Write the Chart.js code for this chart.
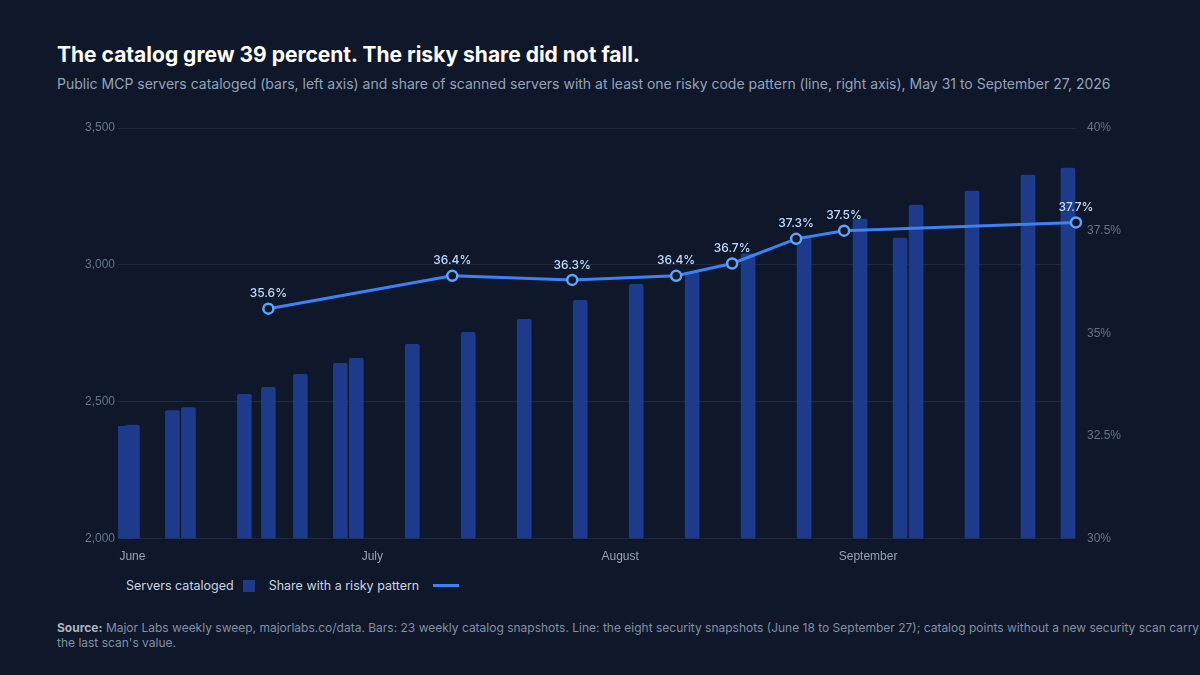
<!DOCTYPE html>
<html>
<head>
<meta charset="utf-8">
<script src="https://cdn.jsdelivr.net/npm/chart.js@4"></script>
<style>
  body { margin: 0; width: 1200px; height: 675px; background: #0f172a; font-family: Inter, sans-serif; overflow: hidden; position: relative; }
  h1 { position: absolute; left: 57px; top: 42px; margin: 0; font-size: 21px; font-weight: 700; color: #ffffff; }
  .sub { position: absolute; left: 57px; top: 75px; font-size: 14px; color: #94a3b8; white-space: nowrap; }
  .src { position: absolute; left: 57px; top: 620px; width: 1160px; font-size: 12px; line-height: 15px; color: #8190a5; }
  .src b { color: #aab4c3; }
  #wrap { position: absolute; left: 40px; top: 112px; width: 1100px; height: 455px; }
  .legend { position: absolute; left: 126px; top: 578px; font-size: 12.5px; color: #cbd5e1; display: flex; align-items: center; }
  .legend .box { width: 12px; height: 12px; background: #1e3a8a; margin: 0 14px 0 9px; }
  .legend .ln { width: 26px; height: 3px; background: #3b82f6; margin-left: 14px; }
</style>
</head>
<body>
<h1>The catalog grew 39 percent. The risky share did not fall.</h1>
<div class="sub">Public MCP servers cataloged (bars, left axis) and share of scanned servers with at least one risky code pattern (line, right axis), May 31 to September 27, 2026</div>
<div id="wrap"><canvas id="chart"></canvas></div>
<div class="legend"><span>Servers cataloged</span><span class="box"></span><span>Share with a risky pattern</span><span class="ln"></span></div>
<div class="src"><b>Source:</b> Major Labs weekly sweep, majorlabs.co/data. Bars: 23 weekly catalog snapshots. Line: the eight security snapshots (June 18 to September 27); catalog points without a new security scan carry the last scan's value.</div>
<script>
// days counted from June 1
const catalogDays = [-1, 0, 5, 7, 14, 17, 21, 26, 28, 35, 42, 49, 56, 63, 70, 77, 84, 91, 96, 98, 105, 112, 117];
const catalogCounts = [2410, 2415, 2468, 2479, 2527, 2553, 2600, 2640, 2659, 2710, 2754, 2801, 2870, 2929, 2973, 3040, 3105, 3167, 3098, 3218, 3270, 3328, 3354];
const scanDays = [17, 40, 55, 68, 75, 83, 89, 118];
const riskyShare = [35.6, 36.4, 36.3, 36.4, 36.7, 37.3, 37.5, 37.7];
const monthTicks = [0, 30, 61, 92];
const monthNames = ["June", "July", "August", "September"];

const pointLabels = {
    id: "pointLabels",
    afterDatasetsDraw(chart) {
        const ctx = chart.ctx;
        const meta = chart.getDatasetMeta(1);
        ctx.save();
        ctx.font = "500 12px Inter, sans-serif";
        ctx.fillStyle = "#bfdbfe";
        ctx.textAlign = "center";
        ctx.textBaseline = "bottom";
        meta.data.forEach((pt, i) => {
            ctx.fillText(riskyShare[i].toFixed(1) + "%", pt.x, pt.y - 9);
        });
        ctx.restore();
    }
};

new Chart(document.getElementById("chart"), {
    data: {
        datasets: [
            {
                type: "bar",
                label: "Servers cataloged",
                data: catalogDays.map((d, i) => ({ x: d, y: catalogCounts[i] })),
                backgroundColor: "#1e3a8a",
                borderRadius: 2,
                barThickness: 14,
                yAxisID: "y",
                order: 2
            },
            {
                type: "line",
                label: "Share with a risky pattern",
                data: scanDays.map((d, i) => ({ x: d, y: riskyShare[i] })),
                borderColor: "#3b82f6",
                borderWidth: 3,
                pointRadius: 5,
                pointBorderWidth: 2.5,
                pointBackgroundColor: "#0f172a",
                pointBorderColor: "#60a5fa",
                clip: false,
                yAxisID: "y1",
                order: 1
            }
        ]
    },
    options: {
        responsive: true,
        maintainAspectRatio: false,
        animation: false,
        layout: { padding: { left: 42, right: 16, top: 16 } },
        plugins: {
            tooltip: { enabled: false },
            legend: { display: false }
        },
        scales: {
            x: {
                type: "linear",
                offset: false,
                bounds: "data",
                min: -1.8,
                max: 118,
                grid: { display: false },
                border: { display: false },
                afterBuildTicks(axis) { axis.ticks = monthTicks.map(v => ({ value: v })); },
                ticks: {
                    color: "#94a3b8",
                    font: { size: 12 },
                    maxRotation: 0,
                    autoSkip: false,
                    callback: (v) => monthNames[monthTicks.indexOf(v)]
                }
            },
            y: {
                position: "left",
                min: 2000,
                max: 3500,
                ticks: { stepSize: 500, color: "#64748b", font: { size: 12 }, callback: v => v.toLocaleString("en-US") },
                grid: { color: "#1e293b", drawTicks: false },
                border: { display: false }
            },
            y1: {
                position: "right",
                min: 30,
                max: 40,
                ticks: { stepSize: 2.5, color: "#64748b", font: { size: 12 }, callback: v => v + "%" },
                grid: { display: false },
                border: { display: false }
            }
        }
    },
    plugins: [pointLabels]
});
</script>
</body>
</html>
